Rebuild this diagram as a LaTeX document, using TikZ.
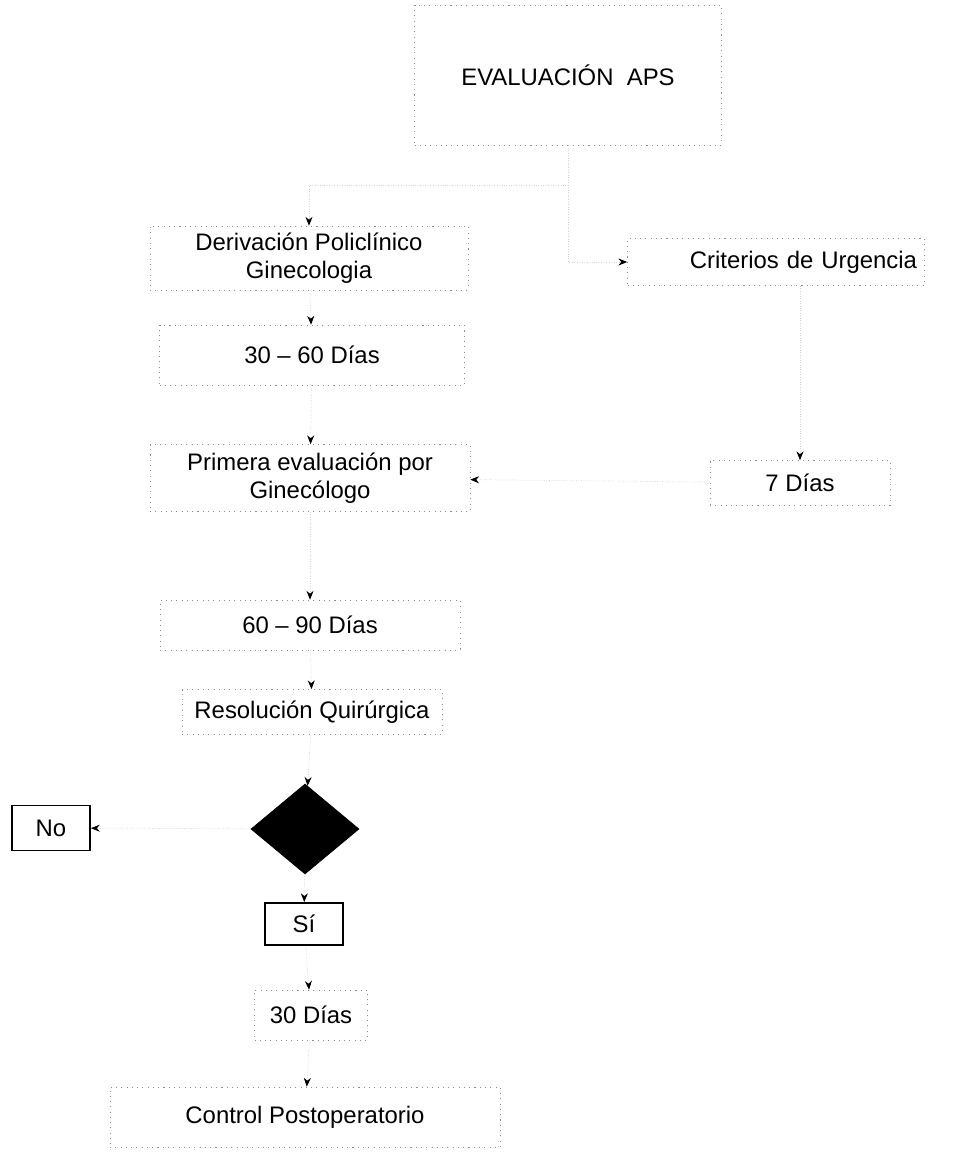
\documentclass[tikz,border=0pt]{standalone}
\usepackage{fontspec}
\setmainfont{Liberation Sans}
\usetikzlibrary{arrows.meta,positioning,shapes.geometric}

\begin{document}
\begin{tikzpicture}[x=0.02cm,y=-0.02cm,>=Stealth,
  every node/.style={font=\fontsize{13.6}{16}\selectfont},
  box/.style={draw=black!45,dash pattern=on 0.6pt off 2.4pt,minimum width=#1,align=center,inner sep=0pt},
  box/.default=6cm,
  solidbox/.style={draw,line width=1.1pt,minimum width=1.56cm,inner sep=0pt},
  link/.style={draw=black!18,densely dotted,-{Stealth[black,length=5pt,width=4pt]}}]
\useasboundingbox (0,0) rectangle (973,1157);
% main column
\node[box=6.14cm,minimum height=2.8cm] (eval) at (568,75) {EVALUACIÓN\ \ APS};
\node[box=6.36cm,minimum height=1.28cm] (deriv) at (309,258) {Derivación Policlínico\\Ginecologia};
\node[box=6.1cm,minimum height=1.2cm] (d3060) at (312,355) {30 -- 60 Días};
\node[box=6.4cm,minimum height=1.34cm] (primera) at (310,478) {Primera evaluación por\\Ginecólogo};
\node[box=6cm,minimum height=1cm] (d6090) at (310,625) {60 -- 90 Días};
\node[box=5.2cm,minimum height=0.9cm] (resol) at (312,712) {Resolución Quirúrgica};
\node[draw,diamond,fill=black,minimum width=2.16cm,minimum height=1.8cm,inner sep=0pt] (cond) at (305,829) {};
\node[solidbox,minimum height=0.9cm] (no) at (51,828) {No};
\node[solidbox,minimum height=0.84cm] (si) at (304,924) {Sí};
\node[box=2.26cm,minimum height=1cm] (d30) at (311,1015) {30 Días};
\node[box=7.8cm,minimum height=1.2cm] (control) at (305,1117) {Control Postoperatorio};
% urgent branch
\node[box=5.94cm,minimum height=0.94cm,text width=5.64cm,align=right] (crit) at (776,262) {Criterios de Urgencia};
\node[box=3.6cm,minimum height=0.9cm] (d7) at (800,483) {7 Días};
% connectors
\draw[link] (eval.south) -- ++(0,40) -| (deriv.north);
\draw[link] (eval.south) |- (crit.west);
\draw[link] (deriv) -- (d3060);
\draw[link] (d3060) -- (primera);
\draw[link] (d7.north |- crit.south) -- (d7.north);
\draw[link] (d7) -- (primera);
\draw[link] (primera) -- (d6090);
\draw[link] (d6090) -- (resol);
\draw[link] (resol) -- (cond);
\draw[link] (cond) -- (no);
\draw[link] (cond) -- (si);
\draw[link] (si) -- (d30);
\draw[link] (d30) -- (control);
\end{tikzpicture}
\end{document}
